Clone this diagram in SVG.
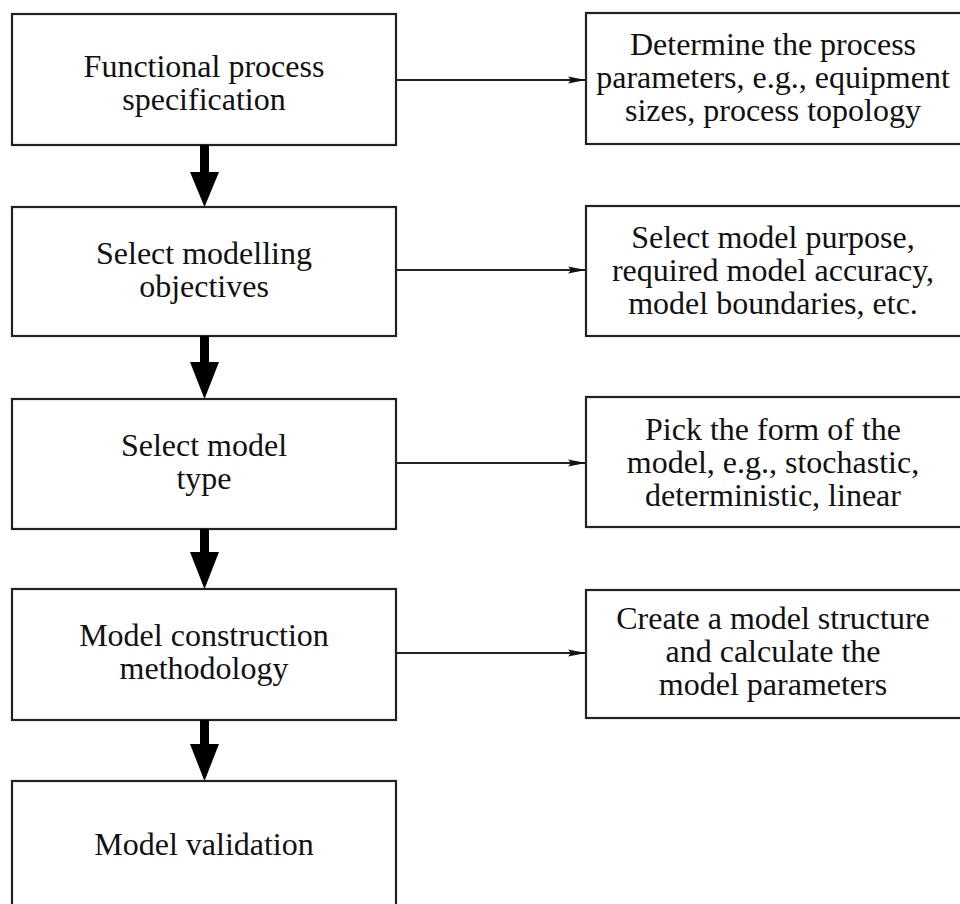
<svg xmlns="http://www.w3.org/2000/svg" width="960" height="904" viewBox="0 0 960 904">
<defs>
<style>
.box{fill:#fff;stroke:#222;stroke-width:2.2}
.t{font-family:"Liberation Serif","Times New Roman",serif;font-size:32px;fill:#111;text-anchor:middle}
.ln{stroke:#222;stroke-width:2;fill:none}
.thick{fill:#000}
</style>
<marker id="ah" markerWidth="18" markerHeight="8" refX="18" refY="4" orient="auto" markerUnits="userSpaceOnUse">
<path d="M0,0.5 L18,4 L0,7.5 L3,4 Z" fill="#111"/>
</marker>
</defs>
<rect width="960" height="904" fill="#fff"/>
<g id="n1"><rect class="box" x="12" y="14" width="384" height="131"/>
<text class="t" x="204" y="77">Functional process</text><text class="t" x="204" y="110">specification</text></g>
<g id="n2"><rect class="box" x="12" y="207" width="384" height="129"/>
<text class="t" x="204" y="264">Select modelling</text><text class="t" x="204" y="297">objectives</text></g>
<g id="n3"><rect class="box" x="12" y="399" width="384" height="130"/>
<text class="t" x="204" y="456">Select model</text><text class="t" x="204" y="489">type</text></g>
<g id="n4"><rect class="box" x="12" y="589" width="384" height="131"/>
<text class="t" x="204" y="646">Model construction</text><text class="t" x="204" y="679">methodology</text></g>
<g id="n5"><rect class="box" x="12" y="781" width="384" height="140"/>
<text class="t" x="204" y="855">Model validation</text></g>
<g id="r1"><rect class="box" x="586" y="13" width="380" height="131"/>
<text class="t" x="773" y="55">Determine the process</text><text class="t" x="773" y="88">parameters, e.g., equipment</text><text class="t" x="773" y="121">sizes, process topology</text></g>
<g id="r2"><rect class="box" x="586" y="206" width="380" height="130"/>
<text class="t" x="773" y="248">Select model purpose,</text><text class="t" x="773" y="281">required model accuracy,</text><text class="t" x="773" y="314">model boundaries, etc.</text></g>
<g id="r3"><rect class="box" x="586" y="397" width="380" height="130"/>
<text class="t" x="773" y="440">Pick the form of the</text><text class="t" x="773" y="473">model, e.g., stochastic,</text><text class="t" x="773" y="506">deterministic, linear</text></g>
<g id="r4"><rect class="box" x="586" y="590" width="380" height="128"/>
<text class="t" x="773" y="629">Create a model structure</text><text class="t" x="773" y="662">and calculate the</text><text class="t" x="773" y="695">model parameters</text></g>
<g id="connectors">
<line class="ln" x1="396" y1="80" x2="586" y2="80" marker-end="url(#ah)"/>
<line class="ln" x1="396" y1="270" x2="586" y2="270" marker-end="url(#ah)"/>
<line class="ln" x1="396" y1="463" x2="586" y2="463" marker-end="url(#ah)"/>
<line class="ln" x1="396" y1="653" x2="586" y2="653" marker-end="url(#ah)"/>
<rect class="thick" x="200" y="145" width="9" height="28"/><polygon class="thick" points="190,172 219,172 204.5,207"/>
<rect class="thick" x="200" y="336" width="9" height="27"/><polygon class="thick" points="190,362 219,362 204.5,399"/>
<rect class="thick" x="200" y="529" width="9" height="24"/><polygon class="thick" points="190,552 219,552 204.5,589"/>
<rect class="thick" x="200" y="720" width="9" height="25"/><polygon class="thick" points="190,744 219,744 204.5,781"/>
</g>
</svg>
